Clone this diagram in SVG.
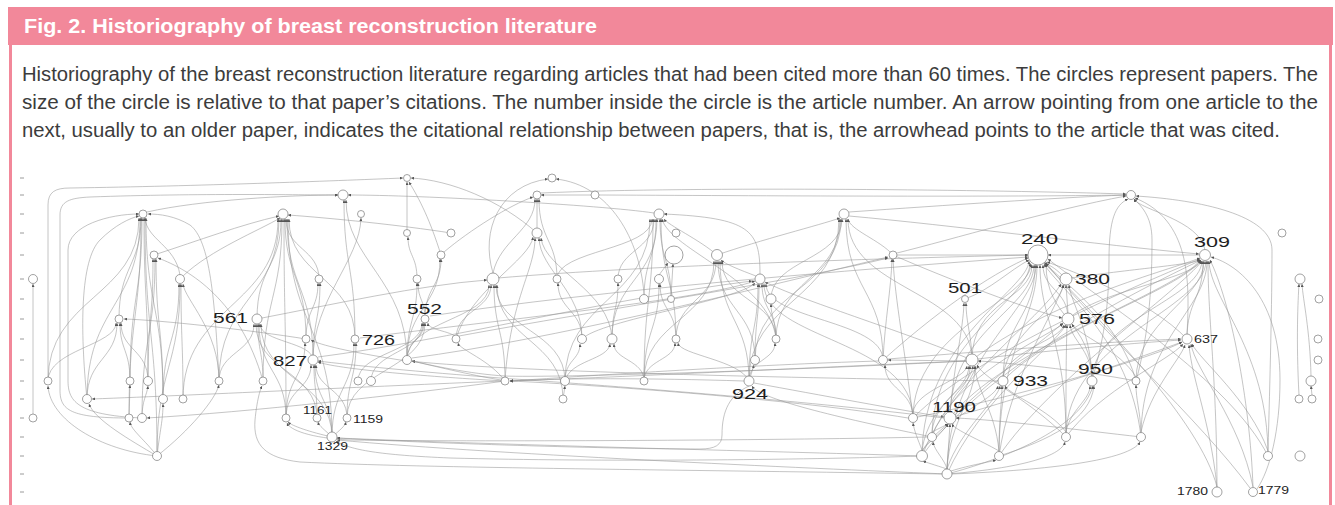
<svg xmlns="http://www.w3.org/2000/svg" width="1335" height="505" viewBox="0 0 1335 505">
<style>
.e{fill:none;stroke:#959595;stroke-width:0.55;marker-end:url(#ah)}
.nd{fill:#fff;stroke:#7a7a7a;stroke-width:0.7}
.lb{font-family:"Liberation Sans",Arial,sans-serif;fill:#1e1e1e}
.tk{stroke:#9a9a9a;stroke-width:1}
.cap{font-family:"Liberation Sans",Arial,sans-serif;font-size:19.5px;fill:#3c3c3c}
</style>
<defs>
<marker id="ah" viewBox="0 0 6 6" refX="6" refY="3" markerWidth="3" markerHeight="3" orient="auto" markerUnits="userSpaceOnUse"><path d="M0,0L6,3L0,6z" fill="#555"/></marker>
</defs>
<rect width="1335" height="505" fill="#fff"/>
<g id="frame">
<rect x="8" y="7" width="1325" height="38" fill="#f2889a"/>
<rect x="9" y="45" width="3" height="460" fill="#f2889a"/>
<rect x="1329" y="45" width="3" height="460" fill="#f2889a"/>
<text x="24" y="33" font-family="Liberation Sans,Arial,sans-serif" font-weight="bold" font-size="20" fill="#fff" textLength="573" lengthAdjust="spacingAndGlyphs">Fig. 2. Historiography of breast reconstruction literature</text>
<text class="cap" x="22" y="81" textLength="1296" lengthAdjust="spacingAndGlyphs">Historiography of the breast reconstruction literature regarding articles that had been cited more than 60 times. The circles represent papers. The</text>
<text class="cap" x="22" y="109" textLength="1296" lengthAdjust="spacingAndGlyphs">size of the circle is relative to that paper’s citations. The number inside the circle is the article number. An arrow pointing from one article to the</text>
<text class="cap" x="22" y="137" textLength="1258" lengthAdjust="spacingAndGlyphs">next, usually to an older paper, indicates the citational relationship between papers, that is, the arrowhead points to the article that was cited.</text>
</g>
<g id="ticks">
<path class="tk" d="M20 178h4M20 195h4M20 214h4M20 233h4M20 255h4M20 279h4M20 299h4M20 319h4M20 339h4M20 360h4M20 381h4M20 399h4M20 418h4M20 437h4M20 456h4M20 474h4M20 492h4"/>
</g>
<g id="connectors">
<path class="e" d="M119 319C119 266 141 266 141 218"/>
<path class="e" d="M130 381C130 297 142 297 142 218"/>
<path class="e" d="M148 381C148 297 144 297 144 218"/>
<path class="e" d="M87 399C87 306 140 306 140 218"/>
<path class="e" d="M48 381C48 297 139 297 139 218"/>
<path class="e" d="M163 399C163 306 146 306 146 218"/>
<path class="e" d="M129 418C129 316 141 316 141 218"/>
<path class="e" d="M157 456C157 335 145 335 145 218"/>
<path class="e" d="M148 381C148 318 153 318 153 259"/>
<path class="e" d="M142 418C142 336 155 336 155 259"/>
<path class="e" d="M163 399C163 327 156 327 156 259"/>
<path class="e" d="M154 255C200 240 240 225 279 216"/>
<path class="e" d="M183 399C183 341 181 341 181 284"/>
<path class="e" d="M163 399C163 341 179 341 179 284"/>
<path class="e" d="M157 456C157 367 180 367 180 284"/>
<path class="e" d="M180 275C175 245 147 240 145 218"/>
<path class="e" d="M183 276C210 250 260 230 280 218"/>
<path class="e" d="M87 399C87 359 117 359 117 323"/>
<path class="e" d="M130 381C130 350 120 350 120 323"/>
<path class="e" d="M148 381C148 350 121 350 121 323"/>
<path class="e" d="M48 381C48 350 116 345 116 323"/>
<path class="e" d="M306 339C250 330 160 320 124 319"/>
<path class="e" d="M257 319C257 267 281 267 281 219"/>
<path class="e" d="M319 279C319 249 286 249 286 219"/>
<path class="e" d="M306 339C306 277 285 277 285 219"/>
<path class="e" d="M313 360C313 287 287 287 287 219"/>
<path class="e" d="M219 381C219 298 279 298 279 219"/>
<path class="e" d="M263 381C263 298 282 298 282 219"/>
<path class="e" d="M286 418C286 316 284 316 284 219"/>
<path class="e" d="M183 399C183 306 278 306 278 219"/>
<path class="e" d="M355 339C355 277 289 277 289 219"/>
<path class="e" d="M332 437C332 325 288 325 288 219"/>
<path class="e" d="M147 212C200 200 290 195 338 195"/>
<path class="e" d="M451 233C400 225 330 218 288 215"/>
<path class="e" d="M313 360C313 342 260 342 260 324"/>
<path class="e" d="M263 381C263 352 258 352 258 324"/>
<path class="e" d="M219 381C219 352 254 352 254 324"/>
<path class="e" d="M286 418C286 371 259 371 259 324"/>
<path class="e" d="M332 437C332 380 261 380 261 324"/>
<path class="e" d="M317 418C317 371 256 371 256 324"/>
<path class="e" d="M262 318C330 305 420 285 487 280"/>
<path class="e" d="M306 339C306 309 318 309 318 283"/>
<path class="e" d="M313 360C313 320 320 320 320 283"/>
<path class="e" d="M355 339C355 267 344 267 344 200"/>
<path class="e" d="M407 360C407 280 346 260 346 200"/>
<path class="e" d="M313 360C313 300 360 260 361 218"/>
<path class="e" d="M407 233L407 182"/>
<path class="e" d="M441 255C430 220 420 200 409 182"/>
<path class="e" d="M537 233C500 200 450 180 411 178"/>
<path class="e" d="M417 279C417 256 408 256 408 237"/>
<path class="e" d="M425 319C425 287 441 287 441 259"/>
<path class="e" d="M407 360C407 307 440 307 440 259"/>
<path class="e" d="M444 252C470 230 510 205 533 197"/>
<path class="e" d="M407 360C407 320 417 320 417 283"/>
<path class="e" d="M425 319C425 300 418 300 418 283"/>
<path class="e" d="M407 360C407 340 423 340 423 323"/>
<path class="e" d="M371 381C371 352 424 352 424 323"/>
<path class="e" d="M456 339C456 331 428 331 428 323"/>
<path class="e" d="M358 381C358 352 422 352 422 323"/>
<path class="e" d="M347 418C347 370 425 370 425 323"/>
<path class="e" d="M286 418C286 378 305 378 305 343"/>
<path class="e" d="M332 437C332 388 354 388 354 343"/>
<path class="e" d="M347 418C347 380 356 380 356 343"/>
<path class="e" d="M317 418C317 389 314 389 314 365"/>
<path class="e" d="M332 437C332 400 315 400 315 365"/>
<path class="e" d="M286 418C286 389 311 389 311 365"/>
<path class="e" d="M347 418C347 389 316 389 316 365"/>
<path class="e" d="M505 381C450 378 340 370 318 362"/>
<path class="e" d="M922 456C800 452 500 445 337 438"/>
<path class="e" d="M947 474C850 470 500 455 337 440"/>
<path class="e" d="M332 437C325 430 319 426 318 422"/>
<path class="e" d="M332 437C340 430 345 426 346 422"/>
<path class="e" d="M332 437C310 432 292 426 288 422"/>
<path class="e" d="M157 456C130 440 95 420 89 404"/>
<path class="e" d="M157 456C145 440 131 430 130 422"/>
<path class="e" d="M157 456C160 430 163 420 163 404"/>
<path class="e" d="M157 456C100 450 50 420 48 386"/>
<path class="e" d="M157 456C190 430 215 400 219 385"/>
<path class="e" d="M129 418L130 385"/>
<path class="e" d="M142 418C142 400 147 395 148 386"/>
<path class="e" d="M48 377L48 205C48 192 55 188 70 188C200 186 330 181 403 178"/>
<path class="e" d="M129 418C70 418 60 410 60 390L60 215C60 201 70 198 90 197C200 193 300 195 338 195"/>
<path class="e" d="M142 418C75 415 68 400 68 380L68 250C68 225 110 214 139 214"/>
<path class="e" d="M33 418L33 284"/>
<path class="e" d="M505 381C400 385 200 395 92 399"/>
<path class="e" d="M505 381C400 395 250 412 147 418"/>
<path class="e" d="M87 399C80 330 80 260 100 240C115 225 130 218 139 216"/>
<path class="e" d="M219 381C215 300 210 240 190 225C175 216 160 214 148 214"/>
<path class="e" d="M263 381C240 300 190 270 158 258"/>
<path class="e" d="M219 381C219 330 185 300 183 284"/>
<path class="e" d="M493 273C480 230 500 185 548 179"/>
<path class="e" d="M644 294C640 240 610 185 556 179"/>
<path class="e" d="M537 228L537 199"/>
<path class="e" d="M557 279C557 240 539 240 539 199"/>
<path class="e" d="M493 273C500 240 535 230 535 199"/>
<path class="e" d="M591 195L541 195"/>
<path class="e" d="M599 195C800 196 1000 197 1126 195"/>
<path class="e" d="M541 193C700 186 1000 190 1126 194"/>
<path class="e" d="M644 299C644 260 656 260 656 219"/>
<path class="e" d="M618 279C618 250 654 250 654 219"/>
<path class="e" d="M557 279C557 250 652 250 652 219"/>
<path class="e" d="M612 339C612 280 657 280 657 219"/>
<path class="e" d="M676 339C676 280 661 280 661 219"/>
<path class="e" d="M671 299C671 260 660 260 660 219"/>
<path class="e" d="M717 255C700 240 668 225 664 219"/>
<path class="e" d="M644 381C644 300 653 300 653 219"/>
<path class="e" d="M565 381C565 300 650 300 650 219"/>
<path class="e" d="M654 213C600 205 420 195 348 195"/>
<path class="e" d="M760 274C760 230 750 218 664 214"/>
<path class="e" d="M776 339C776 280 840 280 840 219"/>
<path class="e" d="M883 360C883 290 846 290 846 219"/>
<path class="e" d="M749 381C749 300 839 300 839 219"/>
<path class="e" d="M755 360C755 290 841 290 841 219"/>
<path class="e" d="M893 255C880 240 850 230 848 219"/>
<path class="e" d="M972 360C972 290 848 290 848 219"/>
<path class="e" d="M771 299C771 260 842 260 842 219"/>
<path class="e" d="M849 212C950 205 1050 198 1126 195"/>
<path class="e" d="M717 255C760 240 820 225 840 218"/>
<path class="e" d="M671 296L673 264"/>
<path class="e" d="M659 275L668 263"/>
<path class="e" d="M749 381C749 320 720 320 720 261"/>
<path class="e" d="M755 360C755 310 718 310 718 261"/>
<path class="e" d="M644 381C644 320 714 320 714 261"/>
<path class="e" d="M676 339C676 300 716 300 716 261"/>
<path class="e" d="M776 339C776 300 722 300 722 261"/>
<path class="e" d="M756 276C740 270 725 264 721 260"/>
<path class="e" d="M505 381C505 330 494 330 494 285"/>
<path class="e" d="M456 339C456 310 491 310 491 285"/>
<path class="e" d="M565 381C565 330 496 330 496 285"/>
<path class="e" d="M563 399C563 340 497 340 497 285"/>
<path class="e" d="M407 360C407 320 489 320 489 285"/>
<path class="e" d="M582 339C582 310 558 310 558 283"/>
<path class="e" d="M612 339C612 310 618 310 618 283"/>
<path class="e" d="M644 381C644 330 659 330 659 284"/>
<path class="e" d="M676 339C676 310 660 310 660 284"/>
<path class="e" d="M749 381C749 330 758 330 758 284"/>
<path class="e" d="M755 360C755 320 759 320 759 284"/>
<path class="e" d="M776 339C776 310 762 310 762 284"/>
<path class="e" d="M913 418C913 340 764 340 764 284"/>
<path class="e" d="M883 360C883 320 766 320 766 284"/>
<path class="e" d="M972 360C900 330 800 300 765 282"/>
<path class="e" d="M582 339C600 320 740 300 755 283"/>
<path class="e" d="M776 339C776 320 771 318 771 304"/>
<path class="e" d="M505 381C490 360 460 350 458 343"/>
<path class="e" d="M565 381C565 360 580 360 580 344"/>
<path class="e" d="M565 381C570 360 608 360 610 344"/>
<path class="e" d="M644 381C644 360 614 360 614 344"/>
<path class="e" d="M644 381C644 360 675 360 675 343"/>
<path class="e" d="M749 381C740 360 680 355 678 343"/>
<path class="e" d="M749 381C749 360 775 360 775 343"/>
<path class="e" d="M749 381L754 365"/>
<path class="e" d="M913 418C913 390 885 390 885 365"/>
<path class="e" d="M966 361L888 360"/>
<path class="e" d="M966 361C800 368 600 378 510 381"/>
<path class="e" d="M878 361C750 365 600 375 510 381"/>
<path class="e" d="M744 381C650 378 560 378 510 381"/>
<path class="e" d="M501 380C470 375 430 365 412 361"/>
<path class="e" d="M563 399L565 386"/>
<path class="e" d="M932 437C850 420 760 400 752 386"/>
<path class="e" d="M749 386C730 395 722 410 722 435C722 445 715 449 700 449C600 449 400 442 337 438"/>
<path class="e" d="M754 383C820 395 900 410 944 417"/>
<path class="e" d="M582 339C582 290 540 270 539 238"/>
<path class="e" d="M612 339C610 290 545 270 541 238"/>
<path class="e" d="M505 381C510 300 535 270 535 238"/>
<path class="e" d="M456 339C470 290 530 260 533 237"/>
<path class="e" d="M776 339C770 280 670 250 662 219"/>
<path class="e" d="M1205 250C1200 220 1140 210 1134 199"/>
<path class="e" d="M1092 381C1100 350 1109 320 1109 260C1109 220 1115 205 1128 199"/>
<path class="e" d="M1136 381C1150 330 1152 280 1152 240C1152 215 1140 205 1134 199"/>
<path class="e" d="M1187 334C1190 280 1190 220 1135 198"/>
<path class="e" d="M897 253C950 240 1050 210 1126 196"/>
<path class="e" d="M1268 451C1270 380 1272 300 1272 250C1272 215 1200 200 1136 196"/>
<path class="e" d="M965 299C990 290 1010 270 1029 260"/>
<path class="e" d="M972 360C972 300 1032 300 1032 265"/>
<path class="e" d="M1003 381C1003 320 1035 320 1035 265"/>
<path class="e" d="M1068 319C1068 290 1043 290 1043 265"/>
<path class="e" d="M1092 381C1092 320 1046 320 1046 264"/>
<path class="e" d="M913 418C913 330 1030 300 1031 264"/>
<path class="e" d="M950 418C950 330 1033 310 1034 265"/>
<path class="e" d="M932 437C932 340 1030 300 1030 263"/>
<path class="e" d="M1066 437C1066 340 1040 320 1040 265"/>
<path class="e" d="M922 456C922 340 1028 290 1029 261"/>
<path class="e" d="M999 456C999 350 1037 320 1037 265"/>
<path class="e" d="M947 474C947 360 1036 310 1036 265"/>
<path class="e" d="M883 360C950 300 1000 270 1028 258"/>
<path class="e" d="M1187 339C1150 300 1070 270 1047 262"/>
<path class="e" d="M1136 381C1120 320 1060 280 1045 263"/>
<path class="e" d="M1141 437C1130 340 1060 290 1044 264"/>
<path class="e" d="M893 255L1028 255"/>
<path class="e" d="M1199 255L1048 255"/>
<path class="e" d="M430 316C600 290 850 270 1028 257"/>
<path class="e" d="M498 278C650 265 900 258 1028 255"/>
<path class="e" d="M1268 456C1230 380 1100 300 1048 259"/>
<path class="e" d="M1187 339C1187 300 1203 300 1203 261"/>
<path class="e" d="M1068 319C1100 290 1190 280 1201 261"/>
<path class="e" d="M1066 279C1120 270 1190 265 1200 260"/>
<path class="e" d="M1092 381C1092 320 1200 300 1202 261"/>
<path class="e" d="M1136 381C1136 320 1204 300 1204 261"/>
<path class="e" d="M1066 437C1066 340 1205 310 1206 261"/>
<path class="e" d="M1141 437C1141 340 1207 310 1207 261"/>
<path class="e" d="M1268 456C1268 350 1210 300 1209 261"/>
<path class="e" d="M1253 487C1250 400 1230 300 1210 260"/>
<path class="e" d="M1217 492C1217 380 1208 320 1208 261"/>
<path class="e" d="M849 216C950 225 1100 245 1199 254"/>
<path class="e" d="M1003 381C1050 330 1180 290 1201 260"/>
<path class="e" d="M950 418C1000 350 1180 290 1200 260"/>
<path class="e" d="M972 360C1050 300 1170 270 1200 258"/>
<path class="e" d="M913 418C980 350 1150 280 1200 259"/>
<path class="e" d="M922 456C990 360 1160 280 1201 260"/>
<path class="e" d="M999 456C1050 380 1180 290 1202 261"/>
<path class="e" d="M1068 313L1066 285"/>
<path class="e" d="M1003 376C1010 330 1060 310 1063 285"/>
<path class="e" d="M1092 376C1090 330 1070 300 1069 285"/>
<path class="e" d="M1062 275C1055 268 1048 264 1044 263"/>
<path class="e" d="M922 456C950 380 1040 320 1061 284"/>
<path class="e" d="M999 456C1010 380 1050 320 1064 285"/>
<path class="e" d="M972 354C970 330 966 320 966 303"/>
<path class="e" d="M950 412C955 360 963 330 964 303"/>
<path class="e" d="M1066 432C1066 380 1066 360 1067 325"/>
<path class="e" d="M1092 376C1090 350 1072 340 1070 325"/>
<path class="e" d="M1003 376C1010 350 1060 340 1064 325"/>
<path class="e" d="M1136 377C1120 350 1078 335 1072 324"/>
<path class="e" d="M955 415C990 380 1050 335 1063 323"/>
<path class="e" d="M932 437C950 380 1040 340 1063 324"/>
<path class="e" d="M947 474C980 400 1050 350 1066 325"/>
<path class="e" d="M893 255C950 280 1030 310 1062 318"/>
<path class="e" d="M1217 487C1210 420 1192 380 1189 345"/>
<path class="e" d="M1253 487C1240 420 1195 370 1191 344"/>
<path class="e" d="M1141 432C1150 390 1180 360 1185 345"/>
<path class="e" d="M978 359C1050 350 1150 342 1181 340"/>
<path class="e" d="M888 359C1000 350 1100 342 1181 339"/>
<path class="e" d="M1268 451C1250 400 1200 360 1192 344"/>
<path class="e" d="M1066 437C1100 390 1170 360 1183 344"/>
<path class="e" d="M913 418C1000 400 1150 360 1182 342"/>
<path class="e" d="M950 418C1050 390 1160 350 1182 342"/>
<path class="e" d="M950 412C950 390 970 390 970 366"/>
<path class="e" d="M913 413C915 390 965 380 967 366"/>
<path class="e" d="M922 450C930 400 970 390 973 366"/>
<path class="e" d="M947 469C950 420 975 400 975 366"/>
<path class="e" d="M932 432C935 400 968 390 969 366"/>
<path class="e" d="M999 451C995 410 976 390 975 366"/>
<path class="e" d="M1136 381C1080 370 1000 362 978 361"/>
<path class="e" d="M1066 437C1030 400 985 380 977 365"/>
<path class="e" d="M999 451C999 420 1002 400 1002 386"/>
<path class="e" d="M947 469C960 430 998 400 1000 386"/>
<path class="e" d="M1066 432C1050 410 1010 395 1005 386"/>
<path class="e" d="M922 451C940 420 995 400 998 386"/>
<path class="e" d="M1066 432C1070 410 1090 400 1090 386"/>
<path class="e" d="M947 474C1000 460 1080 430 1093 386"/>
<path class="e" d="M999 456C1050 440 1090 420 1094 386"/>
<path class="e" d="M1141 432C1140 410 1136 400 1136 385"/>
<path class="e" d="M922 450C918 440 914 430 913 423"/>
<path class="e" d="M947 469L950 424"/>
<path class="e" d="M922 451C930 440 945 430 948 424"/>
<path class="e" d="M932 432C940 428 946 425 948 424"/>
<path class="e" d="M999 451C980 440 955 430 952 424"/>
<path class="e" d="M1141 437C1080 430 1000 420 956 418"/>
<path class="e" d="M947 469C945 460 934 450 933 442"/>
<path class="e" d="M947 474C1000 470 1060 460 1065 442"/>
<path class="e" d="M952 474C1050 470 1130 460 1140 442"/>
<path class="e" d="M947 469C935 465 925 462 923 461"/>
<path class="e" d="M951 471C970 465 990 462 996 460"/>
<path class="e" d="M1311 376C1310 330 1303 300 1302 284"/>
<path class="e" d="M1299 395C1296 340 1298 300 1299 284"/>
<path class="e" d="M1312 395L1311 386"/>
<path class="e" d="M1250 488C1200 420 1100 330 1046 263"/>
<path class="e" d="M1217 487C1200 420 1100 320 1045 264"/>
<path class="e" d="M1257 489C1270 470 1280 430 1280 380C1280 300 1240 265 1211 257"/>
<path class="e" d="M942 474C700 470 420 468 300 462C265 458 253 445 255 420C257 400 260 390 262 386"/>
<path class="e" d="M927 437C800 440 500 442 350 440C310 438 290 430 287 423"/>
<path class="e" d="M922 456C800 460 600 462 450 458C380 455 350 450 336 441"/>
<path class="e" d="M966 361C800 370 550 378 505 376C470 374 430 365 412 361"/>
<path class="e" d="M944 418C800 400 600 385 500 378C420 372 350 365 318 361"/>
<path class="e" d="M908 418C800 400 600 385 510 381"/>
<path class="e" d="M998 381C800 378 500 372 400 360C350 352 320 345 311 340"/>
<path class="e" d="M360 338C500 320 700 300 755 281"/>
<path class="e" d="M412 358C550 340 750 290 888 257"/>
<path class="e" d="M459 336C600 310 800 280 888 258"/>
<path class="e" d="M318 357C450 340 600 300 752 281"/>
<path class="e" d="M913 418C905 350 895 300 893 259"/>
<path class="e" d="M883 360C885 320 891 290 892 259"/>
</g>
<g id="n407a"><circle class="nd" cx="407" cy="178" r="3.5"/></g>
<g id="n343a"><circle class="nd" cx="343" cy="195" r="5"/></g>
<g id="n143a"><circle class="nd" cx="143" cy="214" r="4"/></g>
<g id="n283a"><circle class="nd" cx="283" cy="214" r="5"/></g>
<g id="n361a"><circle class="nd" cx="361" cy="214" r="3.5"/></g>
<g id="n407b"><circle class="nd" cx="407" cy="233" r="3.5"/></g>
<g id="n154a"><circle class="nd" cx="154" cy="255" r="4"/></g>
<g id="n441a"><circle class="nd" cx="441" cy="255" r="4"/></g>
<g id="n33a"><circle class="nd" cx="33" cy="279" r="4.5"/></g>
<g id="n180a"><circle class="nd" cx="180" cy="279" r="4.5"/></g>
<g id="n319a"><circle class="nd" cx="319" cy="279" r="4"/></g>
<g id="n417a"><circle class="nd" cx="417" cy="279" r="4"/></g>
<g id="n119a"><circle class="nd" cx="119" cy="319" r="4"/></g>
<g id="p561"><circle class="nd" cx="257" cy="319" r="5"/><text class="lb" x="213" y="323" font-size="15" textLength="35" lengthAdjust="spacingAndGlyphs">561</text></g>
<g id="p552"><circle class="nd" cx="425" cy="319" r="4"/><text class="lb" x="407" y="314" font-size="15" textLength="35" lengthAdjust="spacingAndGlyphs">552</text></g>
<g id="n306a"><circle class="nd" cx="306" cy="339" r="4"/></g>
<g id="p726"><circle class="nd" cx="355" cy="339" r="4"/><text class="lb" x="362" y="345" font-size="15" textLength="33" lengthAdjust="spacingAndGlyphs">726</text></g>
<g id="p827"><circle class="nd" cx="313" cy="360" r="5"/><text class="lb" x="273" y="366" font-size="15" textLength="34" lengthAdjust="spacingAndGlyphs">827</text></g>
<g id="n407c"><circle class="nd" cx="407" cy="360" r="4.5"/></g>
<g id="n48a"><circle class="nd" cx="48" cy="381" r="4"/></g>
<g id="n130a"><circle class="nd" cx="130" cy="381" r="4"/></g>
<g id="n148a"><circle class="nd" cx="148" cy="381" r="4.5"/></g>
<g id="n219a"><circle class="nd" cx="219" cy="381" r="4"/></g>
<g id="n263a"><circle class="nd" cx="263" cy="381" r="4"/></g>
<g id="n358a"><circle class="nd" cx="358" cy="381" r="4"/></g>
<g id="n371a"><circle class="nd" cx="371" cy="381" r="4.5"/></g>
<g id="n87a"><circle class="nd" cx="87" cy="399" r="4.5"/></g>
<g id="n163a"><circle class="nd" cx="163" cy="399" r="4.5"/></g>
<g id="n183a"><circle class="nd" cx="183" cy="399" r="4"/></g>
<g id="n33b"><circle class="nd" cx="33" cy="418" r="4"/></g>
<g id="n129a"><circle class="nd" cx="129" cy="418" r="4"/></g>
<g id="n142a"><circle class="nd" cx="142" cy="418" r="4.5"/></g>
<g id="n286a"><circle class="nd" cx="286" cy="418" r="4"/></g>
<g id="p1161"><circle class="nd" cx="317" cy="418" r="4"/><text class="lb" x="303" y="414" font-size="10.5" textLength="29" lengthAdjust="spacingAndGlyphs">1161</text></g>
<g id="p1159"><circle class="nd" cx="347" cy="418" r="4"/><text class="lb" x="353" y="423" font-size="10.5" textLength="30" lengthAdjust="spacingAndGlyphs">1159</text></g>
<g id="p1329"><circle class="nd" cx="332" cy="437" r="5"/><text class="lb" x="317" y="450" font-size="10.5" textLength="31" lengthAdjust="spacingAndGlyphs">1329</text></g>
<g id="n157a"><circle class="nd" cx="157" cy="456" r="4.5"/></g>
<g id="n552a"><circle class="nd" cx="552" cy="178" r="4"/></g>
<g id="n537a"><circle class="nd" cx="537" cy="195" r="4"/></g>
<g id="n595a"><circle class="nd" cx="595" cy="195" r="4"/></g>
<g id="n659a"><circle class="nd" cx="659" cy="214" r="5"/></g>
<g id="n844a"><circle class="nd" cx="844" cy="214" r="5"/></g>
<g id="n451a"><circle class="nd" cx="451" cy="233" r="4"/></g>
<g id="n537b"><circle class="nd" cx="537" cy="233" r="5"/></g>
<g id="n676a"><circle class="nd" cx="676" cy="233" r="4"/></g>
<g id="n674a"><circle class="nd" cx="674" cy="255" r="9"/></g>
<g id="n717a"><circle class="nd" cx="717" cy="255" r="5.5"/></g>
<g id="n493a"><circle class="nd" cx="493" cy="279" r="6"/></g>
<g id="n557a"><circle class="nd" cx="557" cy="279" r="4"/></g>
<g id="n618a"><circle class="nd" cx="618" cy="279" r="4"/></g>
<g id="n659b"><circle class="nd" cx="659" cy="279" r="4.5"/></g>
<g id="n760a"><circle class="nd" cx="760" cy="279" r="5"/></g>
<g id="n644a"><circle class="nd" cx="644" cy="299" r="4.5"/></g>
<g id="n671a"><circle class="nd" cx="671" cy="299" r="3.5"/></g>
<g id="n771a"><circle class="nd" cx="771" cy="299" r="5"/></g>
<g id="n456a"><circle class="nd" cx="456" cy="339" r="4"/></g>
<g id="n582a"><circle class="nd" cx="582" cy="339" r="4.5"/></g>
<g id="n612a"><circle class="nd" cx="612" cy="339" r="5"/></g>
<g id="n676b"><circle class="nd" cx="676" cy="339" r="4"/></g>
<g id="n776a"><circle class="nd" cx="776" cy="339" r="4"/></g>
<g id="n755a"><circle class="nd" cx="755" cy="360" r="4.5"/></g>
<g id="n883a"><circle class="nd" cx="883" cy="360" r="4.5"/></g>
<g id="n505a"><circle class="nd" cx="505" cy="381" r="4"/></g>
<g id="n565a"><circle class="nd" cx="565" cy="381" r="4.5"/></g>
<g id="n644b"><circle class="nd" cx="644" cy="381" r="4"/></g>
<g id="p924"><circle class="nd" cx="749" cy="381" r="5"/><text class="lb" x="732" y="399" font-size="15" textLength="36" lengthAdjust="spacingAndGlyphs">924</text></g>
<g id="n563a"><circle class="nd" cx="563" cy="399" r="4"/></g>
<g id="n1131a"><circle class="nd" cx="1131" cy="195" r="4.5"/></g>
<g id="n1282a"><circle class="nd" cx="1282" cy="233" r="4"/></g>
<g id="n893a"><circle class="nd" cx="893" cy="255" r="4"/></g>
<g id="p240"><circle class="nd" cx="1038" cy="255" r="10"/><text class="lb" x="1021" y="244" font-size="15" textLength="37" lengthAdjust="spacingAndGlyphs">240</text></g>
<g id="p309"><circle class="nd" cx="1205" cy="255" r="5.5"/><text class="lb" x="1194" y="247" font-size="15" textLength="36" lengthAdjust="spacingAndGlyphs">309</text></g>
<g id="p380"><circle class="nd" cx="1066" cy="279" r="6"/><text class="lb" x="1075" y="284" font-size="14" textLength="35" lengthAdjust="spacingAndGlyphs">380</text></g>
<g id="n1300a"><circle class="nd" cx="1300" cy="279" r="5"/></g>
<g id="p501"><circle class="nd" cx="965" cy="299" r="3.5"/><text class="lb" x="948" y="293" font-size="14" textLength="34" lengthAdjust="spacingAndGlyphs">501</text></g>
<g id="n1319a"><circle class="nd" cx="1319" cy="299" r="4"/></g>
<g id="p576"><circle class="nd" cx="1068" cy="319" r="6"/><text class="lb" x="1079" y="324" font-size="14" textLength="36" lengthAdjust="spacingAndGlyphs">576</text></g>
<g id="p637"><circle class="nd" cx="1187" cy="339" r="5"/><text class="lb" x="1194" y="343" font-size="11" textLength="24" lengthAdjust="spacingAndGlyphs">637</text></g>
<g id="n1318a"><circle class="nd" cx="1318" cy="339" r="4"/></g>
<g id="n972a"><circle class="nd" cx="972" cy="360" r="6"/></g>
<g id="n1318b"><circle class="nd" cx="1318" cy="360" r="4"/></g>
<g id="p933"><circle class="nd" cx="1003" cy="381" r="5"/><text class="lb" x="1013" y="386" font-size="14" textLength="35" lengthAdjust="spacingAndGlyphs">933</text></g>
<g id="p950"><circle class="nd" cx="1092" cy="381" r="5"/><text class="lb" x="1078" y="374" font-size="14" textLength="35" lengthAdjust="spacingAndGlyphs">950</text></g>
<g id="n1136a"><circle class="nd" cx="1136" cy="381" r="4"/></g>
<g id="n1311a"><circle class="nd" cx="1311" cy="381" r="5"/></g>
<g id="n1299a"><circle class="nd" cx="1299" cy="399" r="4"/></g>
<g id="n1312a"><circle class="nd" cx="1312" cy="399" r="4"/></g>
<g id="n913a"><circle class="nd" cx="913" cy="418" r="4.5"/></g>
<g id="p1190"><circle class="nd" cx="950" cy="418" r="6"/><text class="lb" x="932" y="412" font-size="14" textLength="44" lengthAdjust="spacingAndGlyphs">1190</text></g>
<g id="n932a"><circle class="nd" cx="932" cy="437" r="4.5"/></g>
<g id="n1066a"><circle class="nd" cx="1066" cy="437" r="4.5"/></g>
<g id="n1141a"><circle class="nd" cx="1141" cy="437" r="4.5"/></g>
<g id="n922a"><circle class="nd" cx="922" cy="456" r="5.5"/></g>
<g id="n999a"><circle class="nd" cx="999" cy="456" r="4.5"/></g>
<g id="n1268a"><circle class="nd" cx="1268" cy="456" r="4.5"/></g>
<g id="n1300b"><circle class="nd" cx="1300" cy="456" r="5"/></g>
<g id="n947a"><circle class="nd" cx="947" cy="474" r="5"/></g>
<g id="p1780"><circle class="nd" cx="1217" cy="492" r="5"/><text class="lb" x="1177" y="495" font-size="10.5" textLength="31" lengthAdjust="spacingAndGlyphs">1780</text></g>
<g id="p1779"><circle class="nd" cx="1253" cy="492" r="4.5"/><text class="lb" x="1258" y="494" font-size="10.5" textLength="31" lengthAdjust="spacingAndGlyphs">1779</text></g>
</svg>
